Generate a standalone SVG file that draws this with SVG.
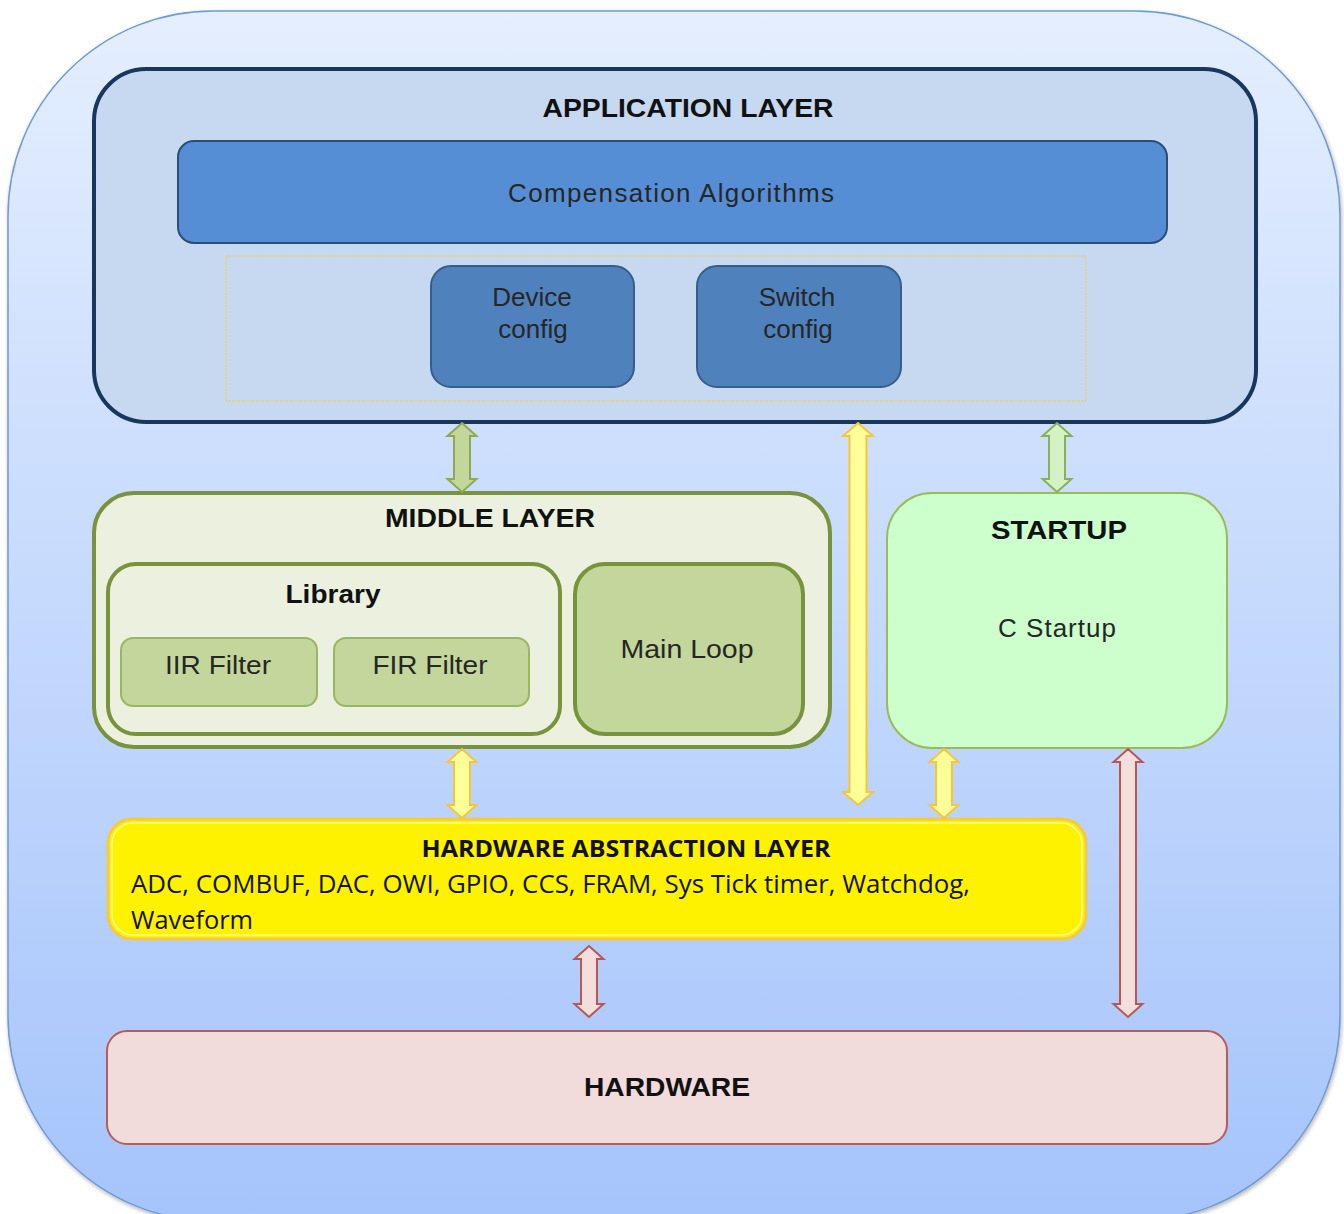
<svg xmlns="http://www.w3.org/2000/svg" width="1344" height="1214" viewBox="0 0 1344 1214">
<defs>
<linearGradient id="bg" x1="0" y1="0" x2="0" y2="1">
<stop offset="0" stop-color="#e4eefe"/>
<stop offset="1" stop-color="#a5c4fb"/>
</linearGradient>
<filter id="sh" x="-5%" y="-5%" width="110%" height="110%">
<feGaussianBlur in="SourceAlpha" stdDeviation="2"/>
<feOffset dx="1" dy="2" result="b"/>
<feComponentTransfer><feFuncA type="linear" slope="0.3"/></feComponentTransfer>
<feMerge><feMergeNode/><feMergeNode in="SourceGraphic"/></feMerge>
</filter>
</defs>
<style>
text{font-family:"Liberation Sans",Arial,sans-serif;text-anchor:middle}
.t{font-size:26px;fill:#262626}
.b{font-size:26px;font-weight:bold;fill:#111}
.c{font-family:"Open Sans","Noto Sans",sans-serif;font-size:25px;fill:#111}
.cb{font-family:"Open Sans","Noto Sans",sans-serif;font-size:24px;font-weight:bold;fill:#111}
.ag{fill:#c3d69b;stroke:#8faa4e;stroke-width:2}
.ag2{fill:#d5f2c4;stroke:#86b05a;stroke-width:2}
.ay{fill:#ffff99;stroke:#f5c53a;stroke-width:2}
.ap{fill:#f4dedc;stroke:#b85754;stroke-width:2}
</style>
<rect x="8" y="11" width="1332" height="1210" rx="205" fill="url(#bg)" stroke="#6e9bd6" stroke-width="1.5" filter="url(#sh)"/>

<g id="application-layer">
<rect x="94" y="69" width="1162" height="353" rx="52" fill="#c6d9f1" stroke="#17375e" stroke-width="4"/>
<text class="b" x="688" y="117" textLength="291" lengthAdjust="spacingAndGlyphs" style="font-weight:bold">APPLICATION LAYER</text>
</g>
<g id="compensation-algorithms">
<rect x="178" y="141" width="989" height="102" rx="16" fill="#558ed5" stroke="#2c4d75" stroke-width="2"/>
<text class="t" x="671" y="202" textLength="326" lengthAdjust="spacing">Compensation Algorithms</text>
</g>
<g id="config-group">
<rect x="226" y="256" width="860" height="145" fill="none" stroke="#e8cf7a" stroke-width="1.5" stroke-dasharray="2 1"/>
</g>
<g id="device-config">
<rect x="431" y="266" width="203" height="121" rx="20" fill="#4f81bd" stroke="#385d8a" stroke-width="2"/>
<text class="t" x="532" y="306">Device</text>
<text class="t" x="533" y="338">config</text>
</g>
<g id="switch-config">
<rect x="697" y="266" width="204" height="121" rx="20" fill="#4f81bd" stroke="#385d8a" stroke-width="2"/>
<text class="t" x="797" y="306">Switch</text>
<text class="t" x="798" y="338">config</text>
</g>

<g id="middle-layer">
<rect x="94" y="493" width="736" height="254" rx="40" fill="#ebf1de" stroke="#77933c" stroke-width="4"/>
<text class="b" x="490" y="527" textLength="210" lengthAdjust="spacingAndGlyphs">MIDDLE LAYER</text>
</g>
<g id="library">
<rect x="108" y="564" width="452" height="170" rx="28" fill="#ebf1de" stroke="#77933c" stroke-width="4"/>
<text class="b" x="333" y="603" textLength="95" lengthAdjust="spacingAndGlyphs">Library</text>
</g>
<g id="iir-filter">
<rect x="121" y="638" width="196" height="68" rx="12" fill="#c3d69b" stroke="#98b763" stroke-width="2"/>
<text class="t" x="218" y="674" textLength="106" lengthAdjust="spacingAndGlyphs">IIR Filter</text>
</g>
<g id="fir-filter">
<rect x="334" y="638" width="195" height="68" rx="12" fill="#c3d69b" stroke="#98b763" stroke-width="2"/>
<text class="t" x="430" y="674" textLength="115" lengthAdjust="spacingAndGlyphs">FIR Filter</text>
</g>
<g id="main-loop">
<rect x="575" y="564" width="228" height="170" rx="30" fill="#c3d69b" stroke="#77933c" stroke-width="4"/>
<text class="t" x="687" y="658" textLength="133" lengthAdjust="spacingAndGlyphs">Main Loop</text>
</g>

<g id="startup">
<rect x="887" y="493" width="340" height="255" rx="45" fill="#ccffcc" stroke="#9bbb59" stroke-width="2"/>
<text class="b" x="1059" y="539" textLength="136" lengthAdjust="spacingAndGlyphs">STARTUP</text>
<text class="t" x="1057" y="637" textLength="118" lengthAdjust="spacing">C Startup</text>
</g>

<g id="hal">
<rect x="108" y="819" width="978" height="120" rx="24" fill="#fff200" stroke="#f2c94a" stroke-width="3"/>
<rect x="112" y="823" width="970" height="112" rx="21" fill="none" stroke="#fffa90" stroke-width="1.5"/>
<text class="cb" x="626" y="857" textLength="409" lengthAdjust="spacingAndGlyphs">HARDWARE ABSTRACTION LAYER</text>
<text class="c" x="131" y="893" style="text-anchor:start" textLength="839" lengthAdjust="spacingAndGlyphs">ADC, COMBUF, DAC, OWI, GPIO, CCS, FRAM, Sys Tick timer, Watchdog,</text>
<text class="c" x="131" y="929" style="text-anchor:start" textLength="122" lengthAdjust="spacingAndGlyphs">Waveform</text>
</g>

<g id="hardware">
<rect x="107" y="1031" width="1120" height="113" rx="20" fill="#f2dcdb" stroke="#b65c5a" stroke-width="2"/>
<text class="b" x="667" y="1096" textLength="166" lengthAdjust="spacingAndGlyphs">HARDWARE</text>
</g>

<g id="connectors">
<path class="ag" d="M462,423 L476.5,436 L470,436 L470,479 L476.5,479 L462,492 L447.5,479 L454,479 L454,436 L447.5,436 Z"/>
<path class="ag2" d="M1057,423 L1071.5,436 L1065,436 L1065,479 L1071.5,479 L1057,492 L1042.5,479 L1049,479 L1049,436 L1042.5,436 Z"/>
<path class="ay" d="M858,423 L873,436 L866.5,436 L866.5,792 L873,792 L858,805 L843,792 L849.5,792 L849.5,436 L843,436 Z"/>
<path class="ay" d="M462,749 L476.5,762 L470,762 L470,805 L476.5,805 L462,818 L447.5,805 L454,805 L454,762 L447.5,762 Z"/>
<path class="ay" d="M944,749 L958.5,762 L952,762 L952,805 L958.5,805 L944,818 L929.5,805 L936,805 L936,762 L929.5,762 Z"/>
<path class="ap" d="M1128,749 L1142.5,762 L1136,762 L1136,1004 L1142.5,1004 L1128,1017 L1113.5,1004 L1120,1004 L1120,762 L1113.5,762 Z"/>
<path class="ap" d="M589,946 L603.5,959 L597,959 L597,1004 L603.5,1004 L589,1017 L574.5,1004 L581,1004 L581,959 L574.5,959 Z"/>
</g>
</svg>
